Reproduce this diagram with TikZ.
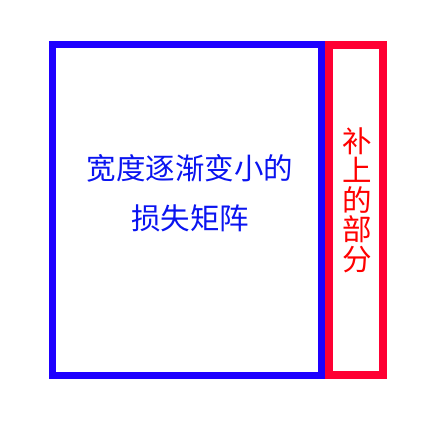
\documentclass[tikz,border=0pt]{standalone}
\usepackage{fontspec}
\setmainfont{Noto Sans CJK SC}
\definecolor{boxblue}{RGB}{30,0,255}
\definecolor{txtblue}{RGB}{10,20,240}
\definecolor{boxred}{RGB}{255,0,51}
\definecolor{txtred}{RGB}{255,0,0}
\begin{document}
\begin{tikzpicture}[x=1pt,y=-1pt,
    lossbox/.style={draw=boxblue, line width=7pt, minimum width=269pt, minimum height=331pt, inner sep=0pt},
    padbox/.style={draw=boxred, line width=8pt, minimum width=54pt, minimum height=330pt, inner sep=0pt},
    label/.style={font=\fontsize{29.5}{49.5}\selectfont, align=center, inner sep=0pt}]
    \useasboundingbox (0,0) rectangle (437,424);
    \node[lossbox] (loss) at (187,210) {};
    \node[padbox] (pad) at (356,210) {};
    \node[label, text=txtblue] (losstext) at (190,193) {宽度逐渐变小的\\损失矩阵};
    \node[label, text=txtred, font=\fontsize{29.5}{29.5}\selectfont] (padtext) at (357,200) {补\\上\\的\\部\\分};
\end{tikzpicture}
\end{document}
